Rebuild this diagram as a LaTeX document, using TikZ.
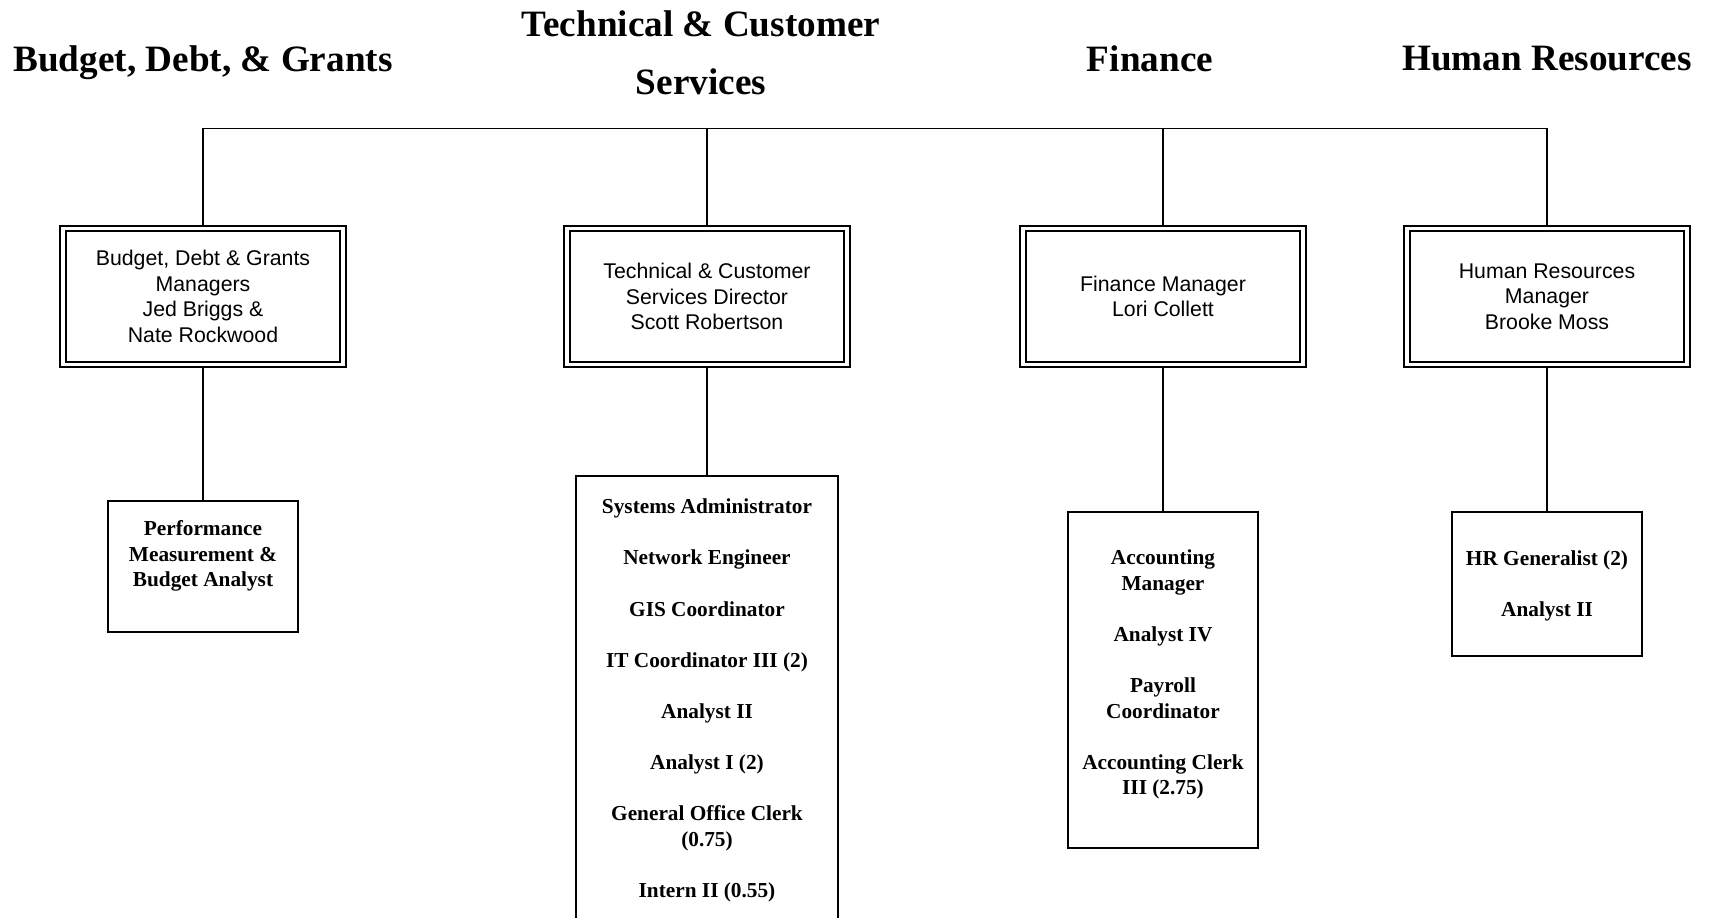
\documentclass[tikz,border=0pt]{standalone}
\usepackage{fontspec}
\setmainfont{Liberation Serif}
\setsansfont{Liberation Sans}
\usetikzlibrary{positioning}

% empty line between two job titles
\def\gap{\\[25.6pt]}

\begin{document}
\begin{tikzpicture}[
    x=1pt,y=-1pt,
    every node/.style={inner sep=0pt},
    headtext/.style={font=\fontsize{37.2}{57.8}\selectfont\bfseries,align=center},
    managerbox/.style={draw,line width=1.8pt,double,double distance=3.6pt,
        minimum width=280pt,minimum height=136pt,outer sep=3.6pt,
        align=center,font=\sffamily\fontsize{21.3}{25.7}\selectfont},
    staffbox/.style={draw,line width=1.6pt,minimum width=190pt},
    stafftext/.style={align=center,font=\fontsize{21.3}{25.6}\selectfont\bfseries},
    orgline/.style={line width=1.4pt}
]
    % page is 1709 x 918, one unit per pixel
    \clip (0,0) rectangle (1709,918);

    % division titles
    \node[headtext] (head_budget) at (203,63)  {Budget, Debt, \& Grants};
    \node[headtext] (head_tech)   at (701,53)  {Technical \& Customer\\Services};
    \node[headtext] (head_fin)    at (1150,59) {Finance};
    \node[headtext] (head_hr)     at (1547,59) {Human Resources};

    % managers
    \node[managerbox] (mgr_budget) at (203,296.5)  {Budget, Debt \& Grants\\Managers\\Jed Briggs \&\\Nate Rockwood};
    \node[managerbox] (mgr_tech)   at (707,296.5)  {Technical \& Customer\\Services Director\\Scott Robertson};
    \node[managerbox] (mgr_fin)    at (1163,296.5) {Finance Manager\\Lori Collett};
    \node[managerbox] (mgr_hr)     at (1547,296.5) {Human Resources\\Manager\\Brooke Moss};

    % staff boxes (the technical one runs off the page)
    \node[staffbox,minimum height=131pt] (staff_budget) at (203,566.5) {};
    \node[staffbox,minimum width=262pt,minimum height=484pt] (staff_tech) at (707,718) {};
    \node[staffbox,minimum height=336pt] (staff_fin) at (1163,680) {};
    \node[staffbox,minimum height=144pt] (staff_hr)  at (1547,584) {};

    \node[stafftext] (list_budget) at (203,556.2)
        {Performance\\Measurement \&\\Budget Analyst};
    \node[stafftext] (list_tech) at (707,700.5)
        {Systems Administrator\gap Network Engineer\gap GIS Coordinator\gap
         IT Coordinator III (2)\gap Analyst II\gap Analyst I (2)\gap
         General Office Clerk\\(0.75)\gap Intern II (0.55)};
    \node[stafftext] (list_fin) at (1163,674.5)
        {Accounting\\Manager\gap Analyst IV\gap Payroll\\Coordinator\gap
         Accounting Clerk\\III (2.75)};
    \node[stafftext] (list_hr) at (1547,586.1)
        {HR Generalist (2)\gap Analyst II};

    % connectors
    \coordinate (bar) at (0,128.6);
    \draw[orgline] (mgr_budget.north) -- (mgr_budget.north |- bar)
        -- (mgr_hr.north |- bar) -- (mgr_hr.north);
    \foreach \n in {mgr_tech,mgr_fin}{
        \draw[orgline] (\n.north) -- (\n.north |- bar);
    }
    \foreach \a/\b in {mgr_budget/staff_budget,mgr_tech/staff_tech,
                       mgr_fin/staff_fin,mgr_hr/staff_hr}{
        \draw[orgline] (\a) -- (\b);
    }

\end{tikzpicture}
\end{document}
